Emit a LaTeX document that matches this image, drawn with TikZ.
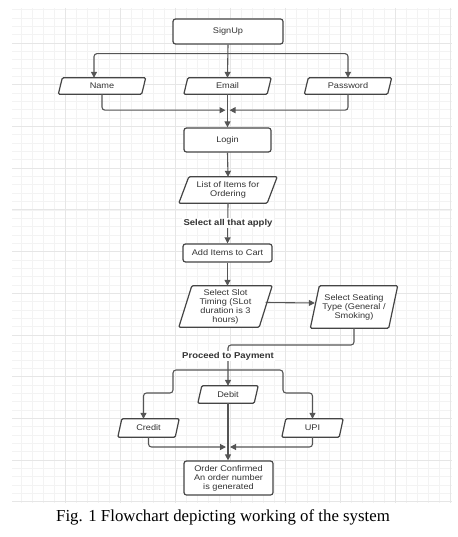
\documentclass[tikz,border=0pt]{standalone}
\usepackage{fontspec}
\setmainfont{Liberation Sans}[FakeStretch=1.12]
\newfontfamily\capfont{Liberation Serif}
\usetikzlibrary{arrows.meta,calc}
\pgfdeclarelayer{gridlayer}
\pgfdeclarelayer{shapelayer}
\pgfsetlayers{gridlayer,shapelayer,main}
\definecolor{boxc}{HTML}{454545}
\definecolor{linec}{HTML}{555555}
\definecolor{txt}{HTML}{333333}
\definecolor{gminor}{HTML}{F3F3F3}
\definecolor{gmajor}{HTML}{E6E6E6}
\newcommand{\ndfont}{\fontsize{8.2}{9}\selectfont}
\newcommand{\lbfont}{\fontsize{8.5}{10}\selectfont\bfseries}
\newcommand{\pgram}[2]{%
  \begin{pgfonlayer}{shapelayer}
  \draw[draw=boxc,line width=1.2pt,fill=white,rounded corners=1.2pt]
    ([xshift=-#2pt]#1.south west) -- ([xshift=#2pt]#1.north west) --
    ([xshift=#2pt]#1.north east) -- ([xshift=-#2pt]#1.south east) -- cycle;
  \end{pgfonlayer}}
\begin{document}
\begin{tikzpicture}[x=1pt,y=-1pt,
  proc/.style={draw=boxc,line width=1.2pt,fill=white,rounded corners=2.5pt,
    inner sep=0pt,align=center,font=\ndfont,text=txt},
  io/.style={inner sep=0pt,align=center,font=\ndfont,text=txt},
  conn/.style={draw=linec,line width=1.1pt,rounded corners=3pt,
    -{Triangle[length=6pt,width=6pt]}},
  lbl/.style={font=\lbfont,text=txt,fill=white,inner sep=1.5pt},
  gmin/.style={draw=gminor,line width=0.6pt},
  gmaj/.style={draw=gmajor,line width=0.8pt}]
\useasboundingbox (0,0) rectangle (457,537);
% background grid
\begin{pgfonlayer}{gridlayer}
\begin{scope}
\clip (12,8) rectangle (452,503);
\foreach \i in {0,...,40} \draw[gmin] ({10+11*\i},8) -- ({10+11*\i},503);
\foreach \i in {0,...,60} \draw[gmin] (12,{1.3+8.34*\i}) -- (452,{1.3+8.34*\i});
\foreach \i in {0,...,8} \draw[gmaj] ({10+55*\i},8) -- ({10+55*\i},503);
\foreach \i in {0,...,12} \draw[gmaj] (12,{1.3+41.7*\i}) -- (452,{1.3+41.7*\i});
\end{scope}
\end{pgfonlayer}
% nodes
\node[proc,minimum width=110pt,minimum height=25pt] (signup) at (228,31.5) {SignUp};
\node[io,minimum width=83pt,minimum height=16pt] (name) at (102,86) {Name}; \pgram{name}{2}
\node[io,minimum width=83pt,minimum height=16pt] (email) at (227.5,86) {Email}; \pgram{email}{2}
\node[io,minimum width=83pt,minimum height=16pt] (password) at (348,86) {Password}; \pgram{password}{2}
\node[proc,minimum width=87pt,minimum height=24pt] (login) at (227.5,140) {Login};
\node[io,minimum width=88pt,minimum height=26pt] (list) at (228,190) {List of Items for\\Ordering}; \pgram{list}{5}
\node[proc,minimum width=89pt,minimum height=18pt] (cart) at (227.5,253) {Add Items to Cart};
\node[io,minimum width=80pt,minimum height=41pt] (slot) at (225.5,306.5) {Select Slot\\Timing (SLot\\duration is 3\\hours)}; \pgram{slot}{6.5}
\node[io,minimum width=78pt,minimum height=42pt] (seat) at (354,307) {Select Seating\\Type (General /\\Smoking)}; \pgram{seat}{4.5}
\node[io,minimum width=56pt,minimum height=17pt] (debit) at (228,394.5) {Debit}; \pgram{debit}{2}
\node[io,minimum width=57pt,minimum height=18pt] (credit) at (148.5,428) {Credit}; \pgram{credit}{2}
\node[io,minimum width=57pt,minimum height=18pt] (upi) at (312.5,428) {UPI}; \pgram{upi}{2}
\node[proc,minimum width=89pt,minimum height=34pt] (order) at (228.5,478) {Order Confirmed\\An order number\\is generated};
\node[font=\capfont\fontsize{16.8}{20}\selectfont,inner sep=0pt] (cap) at (223,517) {Fig. 1 Flowchart depicting working of the system};
% connectors
\coordinate (j1) at ($(signup.south)+(0,9)$);
\draw[conn] (j1) -| ([xshift=-8pt]name.north);
\draw[conn] (j1) -| (password.north);
\draw[conn] (signup.south) -- (email.north);
\coordinate (j2) at ($(email.south)+(0,16)$);
\draw[conn] (name.south) |- ([xshift=-2pt]j2);
\draw[conn] (password.south) |- ([xshift=2pt]j2);
\draw[conn] (email.south) -- (login.north);
\draw[conn] (login.south) -- (list.north);
\draw[conn] (list.south) -- (cart.north);
\draw[conn] (cart.south) -- (cart.south |- slot.north);
\draw[conn] ([yshift=4pt]slot.east) -- ([yshift=4pt]seat.west);
\coordinate (j3) at (228,345);
\draw[conn] (seat.south) |- (j3) -- (debit.north);
\coordinate (j4) at (228,370);
\coordinate (cl) at (173,393);
\coordinate (cr) at (283,393);
\draw[conn] (j4) -| (cl) -| ([xshift=-5pt]credit.north);
\draw[conn] (j4) -| (cr) -| (upi.north);
\coordinate (j5) at (228,447);
\draw[conn] (credit.south) |- ([xshift=-2pt]j5);
\draw[conn] (upi.south) |- ([xshift=2pt]j5);
\draw[conn] (debit.south) -- (debit.south |- order.north);
% labels on connectors
\node[lbl] (sel) at (228,223) {Select all that apply};
\node[lbl] (pay) at (228,356) {Proceed to Payment};
\end{tikzpicture}
\end{document}
